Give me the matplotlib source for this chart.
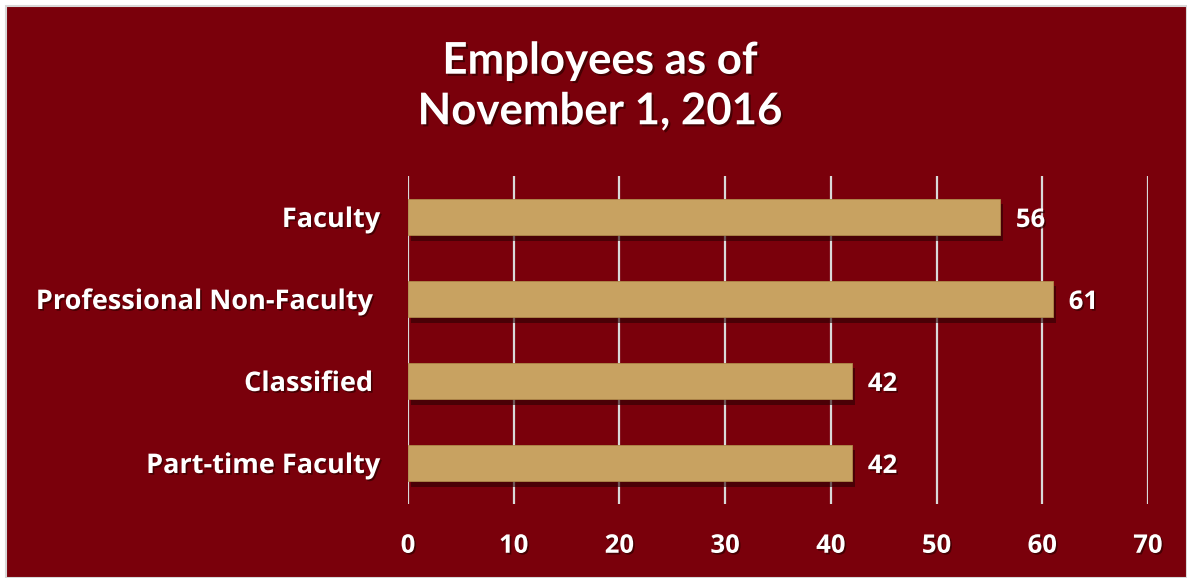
import matplotlib
matplotlib.use("Agg")
import matplotlib.pyplot as plt
import matplotlib.patheffects as pe
from matplotlib.patches import Rectangle

categories = ["Faculty", "Professional Non-Faculty ", "Classified ", "Part-time Faculty"]
values = [56, 61, 42, 42]
xticks = [0, 10, 20, 30, 40, 50, 60, 70]
title = "Employees as of\nNovember 1, 2016"

BG = "#7A000B"
BAR = "#C8A261"
W, H = 1187, 578

fig = plt.figure(figsize=(W / 100, H / 100), dpi=100)
fig.patch.set_facecolor("white")
bgrect = Rectangle((6 / W, 0), 1 - 6 / W, 1 - 6 / H, transform=fig.transFigure,
                   facecolor=BG, edgecolor="#d8d8d8", linewidth=1.5, zorder=-10)
fig.patches.append(bgrect)

ax = fig.add_axes([408 / W, 1 - 504 / H, (1148 - 408) / W, (504 - 176) / H])
ax.set_zorder(5)
ax.set_facecolor("none")
ax.set_xlim(0, 70)
ax.set_ylim(3.5, -0.5)

ypos = list(range(len(categories)))
shadow = [pe.SimplePatchShadow(offset=(2, -4), shadow_rgbFace="#2a0003", alpha=0.6), pe.Normal()]
bars = ax.barh(ypos, values, height=0.45, color=BAR, edgecolor="#b08a4a", linewidth=0.6, zorder=3)
for b in bars:
    b.set_path_effects(shadow)

for x in xticks:
    ax.axvline(x, color="#d9d9d9", linewidth=1.6, zorder=1)

for s in ax.spines.values():
    s.set_visible(False)

font = "Open Sans"
lbl_fx = [pe.SimplePatchShadow(offset=(1.2, -1.2), shadow_rgbFace="#300000", alpha=0.7), pe.Normal()]

ax.set_xticks(xticks)
ax.set_xticklabels([str(x) for x in xticks], fontsize=18.5, fontweight="bold", color="white", family=font)
ax.tick_params(axis="x", length=0, pad=20)
ax.set_yticks(ypos)
ax.set_yticklabels(categories, fontsize=19.5, fontweight="bold", color="white", family=font)
ax.tick_params(axis="y", length=0, pad=20)
for lbl in ax.get_xticklabels() + ax.get_yticklabels():
    lbl.set_path_effects(lbl_fx)

for y, v in zip(ypos, values):
    t = ax.text(v + 1.5, y + 0.03, str(v), va="center", ha="left", fontsize=18.5, fontweight="bold",
                color="white", family=font, zorder=4)
    t.set_path_effects(lbl_fx)

tt = fig.text(600 / W, 1 - 86 / H, title, ha="center", va="center", fontsize=31.5, fontweight="bold",
              color="white", family="Lato", linespacing=1.32)
tt.set_path_effects([pe.SimplePatchShadow(offset=(1.5, -1.5), shadow_rgbFace="#300000", alpha=0.7), pe.Normal()])

fig.savefig("out.png", dpi=100, facecolor=fig.get_facecolor())
